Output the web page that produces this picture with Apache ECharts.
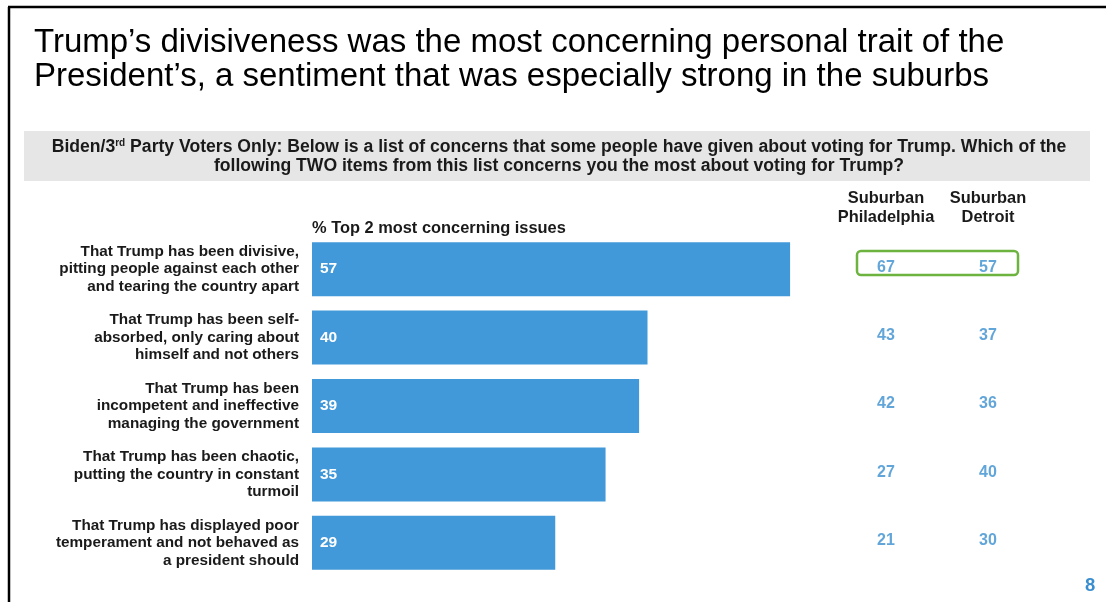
<!DOCTYPE html>
<html>
<head>
<meta charset="utf-8">
<script src="https://cdn.jsdelivr.net/npm/echarts@6/dist/echarts.min.js"></script>
<style>
  html, body { margin: 0; padding: 0; background: #fff; }
  #chart { width: 1106px; height: 602px; }
</style>
</head>
<body>
<div id="chart"></div>
<script>
// concerns about voting for Trump (Biden / 3rd party voters)
const concerns = [
  'That Trump has been divisive,\npitting people against each other\nand tearing the country apart',
  'That Trump has been self-\nabsorbed, only caring about\nhimself and not others',
  'That Trump has been\nincompetent and ineffective\nmanaging the government',
  'That Trump has been chaotic,\nputting the country in constant\nturmoil',
  'That Trump has displayed poor\ntemperament and not behaved as\na president should'
];
const topTwo = [57, 40, 39, 35, 29];
const suburbs = ['Suburban\nPhiladelphia', 'Suburban\nDetroit'];
const philadelphia = [67, 43, 42, 27, 21];
const detroit = [57, 37, 36, 40, 30];

const FONT = '"Liberation Sans", Arial, sans-serif';
const BLUE = '#4299d9';
const LABEL_BLUE = '#3a8ed0';

const chart = echarts.init(document.getElementById('chart'));

const gridTop = 235;
const gridBottom = 602 - 577;

const option = {
  animation: false,
  textStyle: { fontFamily: FONT },
  title: [
    {
      text: 'Trump\u2019s divisiveness was the most concerning personal trait of the\nPresident\u2019s, a sentiment that was especially strong in the suburbs',
      left: 29, top: 21,
      textStyle: { fontSize: 33, fontWeight: 'normal', color: '#000', lineHeight: 34, fontFamily: FONT }
    },
    {
      text: '% Top 2 most concerning issues',
      left: 307, top: 215,
      textStyle: { fontSize: 16.4, fontWeight: 'bold', color: '#1a1a1a', fontFamily: FONT }
    }
  ],
  graphic: [
    { type: 'line', shape: { x1: 9, y1: 7, x2: 9, y2: 602 }, style: { stroke: '#000', lineWidth: 2.5 } },
    { type: 'line', shape: { x1: 8, y1: 7, x2: 1106, y2: 7 }, style: { stroke: '#000', lineWidth: 2.5 } },
    { type: 'rect', shape: { x: 24, y: 131, width: 1066, height: 50 }, style: { fill: '#e6e6e6' }, z: -1 },
    {
      type: 'text', x: 559, y: 138,
      style: {
        text: '{b|Biden/3}{s|rd}{b| Party Voters Only: Below is a list of concerns that some people have given about voting for Trump. Which of the}\n{b|following TWO items from this list concerns you the most about voting for Trump?}',
        align: 'center', fill: '#1a1a1a',
        rich: {
          b: { fontSize: 17.6, fontWeight: 'bold', fontFamily: FONT, lineHeight: 19, fill: '#1a1a1a' },
          s: { fontSize: 10, fontWeight: 'bold', fontFamily: FONT, verticalAlign: 'top', padding: [0, 0, 7, 0], fill: '#1a1a1a' }
        }
      }
    },
    {
      type: 'rect', shape: { x: 857, y: 251, width: 161, height: 24, r: 4 },
      style: { fill: 'none', stroke: '#6cb33f', lineWidth: 2.5 }
    },
    {
      type: 'text', x: 1085, y: 576,
      style: { text: '8', fontSize: 18.5, fontWeight: 'bold', fontFamily: FONT, fill: LABEL_BLUE }
    }
  ],
  grid: [
    { left: 312, width: 671, top: gridTop, bottom: gridBottom, outerBoundsMode: 'none' },
    { left: 835, width: 204, top: gridTop, bottom: gridBottom, outerBoundsMode: 'none' }
  ],
  xAxis: [
    { gridIndex: 0, type: 'value', min: 0, max: 80, show: false },
    {
      gridIndex: 1, type: 'category', data: suburbs, position: 'top',
      axisLine: { show: false }, axisTick: { show: false },
      axisLabel: { interval: 0, fontSize: 16.4, fontWeight: 'bold', color: '#1a1a1a', lineHeight: 19, margin: 8, fontFamily: FONT }
    }
  ],
  yAxis: [
    {
      gridIndex: 0, type: 'category', data: concerns, inverse: true,
      axisLine: { show: false }, axisTick: { show: false },
      axisLabel: { interval: 0, fontSize: 15.3, fontWeight: 'bold', color: '#1a1a1a', lineHeight: 17.5, align: 'right', margin: 13, fontFamily: FONT }
    },
    { gridIndex: 1, type: 'category', data: concerns, inverse: true, show: false }
  ],
  series: [
    {
      type: 'bar', xAxisIndex: 0, yAxisIndex: 0, data: topTwo,
      barWidth: 54, itemStyle: { color: BLUE },
      label: { show: true, position: 'insideLeft', offset: [3, 0], color: '#fff', fontSize: 15.5, fontWeight: 'bold', fontFamily: FONT }
    },
    {
      type: 'scatter', xAxisIndex: 1, yAxisIndex: 1, symbolSize: 0,
      data: philadelphia.map((v, i) => [suburbs[0], concerns[i], v]),
      label: { show: true, position: 'inside', offset: [0, -2], formatter: p => p.value[2], color: LABEL_BLUE, fontSize: 16, fontWeight: 'bold', fontFamily: FONT }
    },
    {
      type: 'scatter', xAxisIndex: 1, yAxisIndex: 1, symbolSize: 0,
      data: detroit.map((v, i) => [suburbs[1], concerns[i], v]),
      label: { show: true, position: 'inside', offset: [0, -2], formatter: p => p.value[2], color: LABEL_BLUE, fontSize: 16, fontWeight: 'bold', fontFamily: FONT }
    }
  ]
};

chart.setOption(option);
</script>
</body>
</html>
